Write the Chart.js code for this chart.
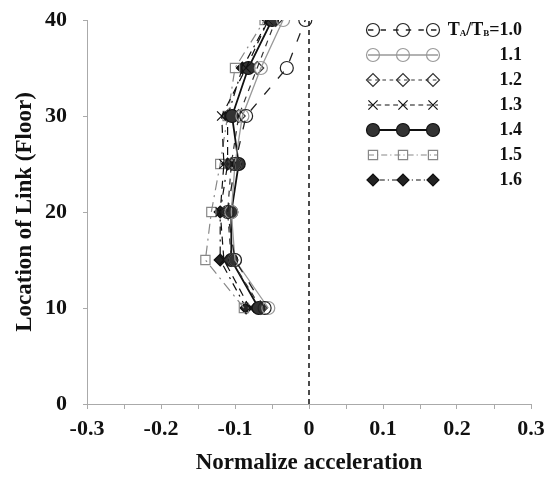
<!DOCTYPE html>
<html>
<head>
<meta charset="utf-8">
<script src="https://cdn.jsdelivr.net/npm/chart.js@4/dist/chart.umd.min.js"></script>
<style>
html,body{margin:0;padding:0;background:#fff;}
#wrap{width:553px;height:477px;position:relative;}
</style>
</head>
<body>
<div id="wrap"><canvas id="c" width="553" height="477"></canvas></div>
<script>
const floors = [10, 15, 20, 25, 30, 35, 40];
const ratioLabels = ['1.0', '1.1', '1.2', '1.3', '1.4', '1.5', '1.6'];
const accel10 = [-0.060, -0.100, -0.110, -0.100, -0.085, -0.030, -0.005];
const accel11 = [-0.055, -0.100, -0.105, -0.100, -0.090, -0.065, -0.035];
const accel12 = [-0.065, -0.105, -0.110, -0.105, -0.095, -0.070, -0.045];
const accel13 = [-0.080, -0.115, -0.120, -0.115, -0.118, -0.085, -0.055];
const accel14 = [-0.068, -0.105, -0.105, -0.095, -0.104, -0.082, -0.050];
const accel15 = [-0.088, -0.140, -0.132, -0.120, -0.110, -0.100, -0.060];
const accel16 = [-0.085, -0.120, -0.120, -0.110, -0.110, -0.090, -0.055];
const refLineX = [0, 0];
const refLineY = [0, 40];
const xTickLabels = ['-0.3', '-0.2', '-0.1', '0', '0.1', '0.2', '0.3'];
const yTickLabels = ['0', '10', '20', '30', '40'];

const SERIF = '"Liberation Serif", "DejaVu Serif", serif';
const toPts = (xs) => xs.map((v, i) => ({x: v, y: floors[i]}));

const styles = [
  {color:'#222', dash:[9,12], width:1.3, ps:'circle', bg:'rgba(255,255,255,0)', r:6.5},
  {color:'#999', dash:[], width:1.3, ps:'circle', bg:'rgba(255,255,255,0)', r:6.5},
  {color:'#333', dash:[6,6], width:1.2, ps:'rectRot', bg:'rgba(255,255,255,0)', r:6.5},
  {color:'#111', dash:[8,6], width:1.2, ps:'crossRot', bg:'rgba(255,255,255,0)', r:6.5},
  {color:'#111', dash:[], width:1.8, ps:'circle', bg:'#333', r:6.5},
  {color:'#888', dash:[10,5,2,5], width:1.2, ps:'rect', bg:'rgba(255,255,255,0)', r:6.5},
  {color:'#111', dash:[8,5,2,5], width:1.2, ps:'rectRot', bg:'#222', r:6}
];
const series = [accel10, accel11, accel12, accel13, accel14, accel15, accel16];

const datasets = series.map((s, i) => ({
  label: ratioLabels[i],
  data: toPts(s),
  borderColor: styles[i].color,
  backgroundColor: styles[i].bg,
  borderDash: styles[i].dash,
  borderWidth: styles[i].width,
  pointStyle: styles[i].ps,
  pointRadius: styles[i].r,
  pointBorderWidth: 1.2,
  pointBorderColor: styles[i].color,
  pointBackgroundColor: styles[i].bg,
  showLine: true,
  tension: 0
}));
datasets.push({
  label: 'ref',
  data: refLineX.map((v, i) => ({x: v, y: refLineY[i]})),
  borderColor: '#111',
  borderDash: [5, 4],
  borderWidth: 1.5,
  pointRadius: 0,
  showLine: true
});

const legendPlugin = {
  id: 'customLegend',
  afterDraw(chart) {
    const ctx = chart.ctx;
    const x1 = 368, x2 = 438, textRight = 522;
    const rowY0 = 30, rowStep = 25;
    const markX = [373, 403, 433];
    for (let i = 0; i < series.length; i++) {
      const st = styles[i];
      const y = rowY0 + i * rowStep;
      ctx.save();
      ctx.strokeStyle = st.color;
      ctx.lineWidth = st.width;
      ctx.setLineDash(st.dash.map(d => d * 0.6));
      ctx.beginPath(); ctx.moveTo(x1, y); ctx.lineTo(x2, y); ctx.stroke();
      ctx.setLineDash([]);
      ctx.fillStyle = st.bg;
      ctx.strokeStyle = st.color;
      ctx.lineWidth = 1.2;
      markX.forEach(mx => Chart.helpers.drawPoint(ctx, {pointStyle: st.ps, radius: st.r, rotation: 0, borderWidth: 1.2}, mx, y));
      ctx.restore();

      ctx.save();
      ctx.fillStyle = '#111';
      ctx.textBaseline = 'middle';
      const big = 'bold 18px ' + SERIF, small = 'bold 9px ' + SERIF;
      if (i === 0) {
        const parts = [['T', big, 0], ['A', small, 4], ['/T', big, 0], ['B', small, 4], ['=' + ratioLabels[0], big, 0]];
        let total = 0;
        parts.forEach(p => { ctx.font = p[1]; total += ctx.measureText(p[0]).width; });
        let x = textRight - total;
        ctx.textAlign = 'left';
        parts.forEach(p => { ctx.font = p[1]; ctx.fillText(p[0], x, y + p[2]); x += ctx.measureText(p[0]).width; });
      } else {
        ctx.font = big;
        ctx.textAlign = 'right';
        ctx.fillText(ratioLabels[i], textRight, y);
      }
      ctx.restore();
    }
  }
};

new Chart(document.getElementById('c'), {
  type: 'scatter',
  data: {datasets},
  options: {
    responsive: false,
    animation: false,
    layout: {padding: {top: 20, right: 22, left: 0, bottom: 0}},
    plugins: {legend: {display: false}, tooltip: {enabled: false}},
    scales: {
      x: {
        type: 'linear', min: -0.3, max: 0.3,
        afterFit(s) { s.height = 73; s.paddingLeft = 0; s.paddingRight = 0; },
        ticks: {
          stepSize: 0.05, autoSkip: false, maxRotation: 0, padding: 7,
          color: '#111', font: {family: SERIF, size: 22, weight: 'bold'},
          callback: (v) => {
            const k = Math.round(v * 100);
            if (k % 10 !== 0) return '';
            return xTickLabels[Math.round((v + 0.3) * 10)];
          }
        },
        grid: {display: true, drawOnChartArea: false, drawTicks: true, tickLength: 5, color: '#aaa', lineWidth: 1},
        border: {display: true, color: '#aaa', width: 1, dash: [3, 2]},
        title: {display: true, text: 'Normalize acceleration', color: '#111', font: {family: SERIF, size: 23, weight: 'bold'}, padding: {top: 0, bottom: 0}}
      },
      y: {
        type: 'linear', min: 0, max: 40,
        afterFit(s) { s.width = 87; s.paddingTop = 0; s.paddingBottom = 0; },
        ticks: {
          stepSize: 10, padding: 16,
          color: '#111', font: {family: SERIF, size: 22, weight: 'bold'},
          callback: (v) => yTickLabels[Math.round(v / 10)]
        },
        grid: {display: true, drawOnChartArea: false, drawTicks: true, tickLength: 4, color: '#aaa', lineWidth: 1},
        border: {display: true, color: '#aaa', width: 1, dash: [3, 2]},
        title: {display: true, text: 'Location of Link (Floor)', color: '#111', font: {family: SERIF, size: 23, weight: 'bold'}, padding: {top: 11, bottom: 0}}
      }
    }
  },
  plugins: [legendPlugin]
});
</script>
</body>
</html>
